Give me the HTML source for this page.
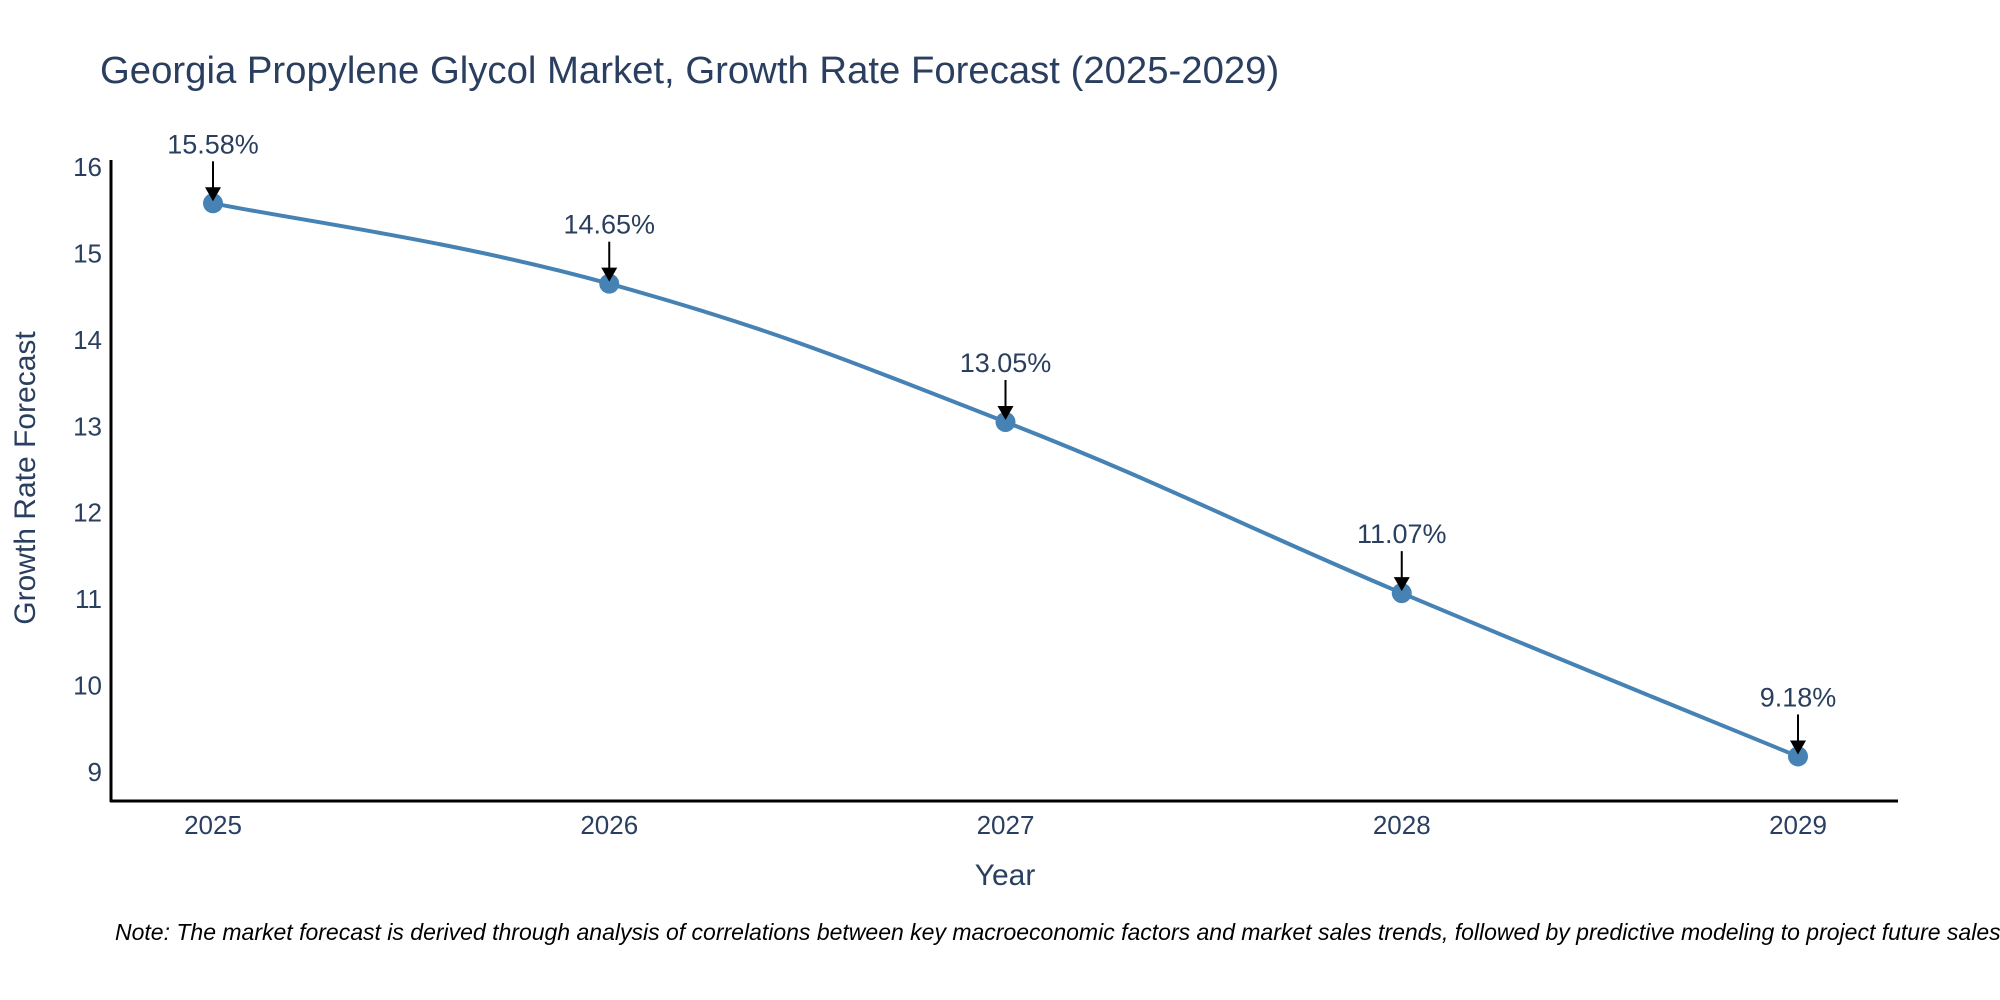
<!DOCTYPE html>
<html><head><meta charset="utf-8"><style>
html,body{margin:0;padding:0;background:#fff}
svg{display:block;font-family:"Liberation Sans","DejaVu Sans",sans-serif}
</style></head><body>
<svg id="chart" width="2000" height="1000" viewBox="0 0 2000 1000">
<text x="100" y="83" font-size="38.3" fill="#2a3f5f">Georgia Propylene Glycol Market, Growth Rate Forecast (2025-2029)</text>
<g id="yticks"></g><g id="xticks"></g>
<line x1="111" y1="160" x2="111" y2="802" stroke="#000" stroke-width="3"/>
<line x1="110" y1="801" x2="1898" y2="801" stroke="#000" stroke-width="3"/>
<g id="series"></g><g id="annots"></g>
<text x="1005" y="885" font-size="30" fill="#2a3f5f" text-anchor="middle">Year</text>
<text transform="translate(35,478) rotate(-90)" font-size="30" fill="#2a3f5f" text-anchor="middle">Growth Rate Forecast</text>
<text x="115" y="940" font-size="23" font-style="italic" fill="#000">Note: The market forecast is derived through analysis of correlations between key macroeconomic factors and market sales trends, followed by predictive modeling to project future sales.</text>
</svg>
<script>
const categories=["2025","2026","2027","2028","2029"];
const values=[15.58,14.65,13.05,11.07,9.18];
const valueLabels=["15.58%","14.65%","13.05%","11.07%","9.18%"];
const yTicks=[9,10,11,12,13,14,15,16];
const NS="http://www.w3.org/2000/svg";
function xs(i){return 213+i*(1798-213)/(categories.length-1);}
function ys(v){return 772-(v-9)*(772-167)/7;}
function mk(t,a,p){const e=document.createElementNS(NS,t);for(const k in a)e.setAttribute(k,a[k]);p.appendChild(e);return e;}
const yg=document.getElementById('yticks'),xg=document.getElementById('xticks'),sg=document.getElementById('series'),ag=document.getElementById('annots');
yTicks.forEach(t=>{const e=mk('text',{x:102,y:ys(t)+9,'font-size':26,fill:'#2a3f5f','text-anchor':'end'},yg);e.textContent=t;

});
categories.forEach((c,i)=>{const e=mk('text',{x:xs(i),y:834,'font-size':26,fill:'#2a3f5f','text-anchor':'middle'},xg);e.textContent=c;

});
const P=values.map((v,i)=>[xs(i),ys(v)]);
let d=`M${P[0][0]},${P[0][1]}`;const s=0.2;
for(let i=0;i<P.length-1;i++){const p0=P[Math.max(0,i-1)],p1=P[i],p2=P[i+1],p3=P[Math.min(P.length-1,i+2)];
const c1=[p1[0]+(p2[0]-p0[0])*s,p1[1]+(p2[1]-p0[1])*s],c2=[p2[0]-(p3[0]-p1[0])*s,p2[1]-(p3[1]-p1[1])*s];
d+=` C${c1[0]},${c1[1]} ${c2[0]},${c2[1]} ${p2[0]},${p2[1]}`;}
const line=mk('path',{d:d,fill:'none',stroke:'#4682b4','stroke-width':4},sg);


P.forEach((p,i)=>{const c=mk('circle',{cx:p[0],cy:p[1],r:10,fill:'#4682b4'},sg);


const l=mk('line',{x1:p[0],y1:p[1]-42,x2:p[0],y2:p[1]-14,stroke:'#000','stroke-width':2},ag);


const h=mk('path',{d:`M${p[0]-8},${p[1]-16} L${p[0]+8},${p[1]-16} L${p[0]},${p[1]-2} Z`,fill:'#000'},ag);


const t=mk('text',{x:p[0],y:p[1]-50,'font-size':27,fill:'#2a3f5f','text-anchor':'middle'},ag);t.textContent=valueLabels[i];

});
</script>
</body></html>
